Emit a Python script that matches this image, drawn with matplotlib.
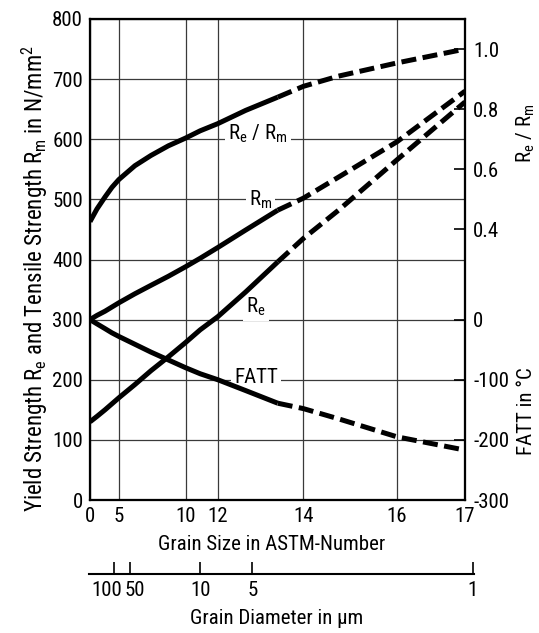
import numpy as np
import matplotlib
matplotlib.use("Agg")
import matplotlib.pyplot as plt
from matplotlib import font_manager as fm
from matplotlib.ticker import FixedLocator, NullLocator
from matplotlib.transforms import ScaledTranslation

# curves, at these ASTM grain size numbers
grain_size = [0, 1.2, 2.6, 3.8, 5, 6.2, 7.4, 8.7, 10, 10.9, 12, 12.65, 13.4, 14, 14.75, 16, 17]
tensile_rm = [300, 307, 314, 321, 328, 343, 357, 372, 388, 402, 420, 449, 482, 502, 537, 596, 680]   # N/mm2
yield_re = [130, 139, 150, 160, 170, 192, 215, 238, 262, 283, 305, 346, 396, 435, 482, 566, 662]     # N/mm2
ratio_re_rm = [0.426, 0.468, 0.508, 0.54, 0.566, 0.612, 0.646, 0.678, 0.704, 0.728, 0.752, 0.796,
               0.84, 0.876, 0.91, 0.954, 1.0]
fatt = [0, -7, -15, -22, -28, -41, -54, -67, -80, -90, -100, -118, -139, -148, -165, -195, -217]   # deg C
measured_until = 13.4   # dashed (extrapolated) beyond this

astm_ticks = [0, 5, 10, 12, 14, 16, 17]
# the ASTM axis is non-uniform (hand drawn): fraction of axis width per tick
astm_pos = [0, 0.077, 0.255, 0.341, 0.569, 0.819, 1.0]
strength_ticks = list(range(0, 801, 100))
ratio_ticks = [0.4, 0.6, 0.8, 1.0]
fatt_ticks = [0, -100, -200, -300]
diam_ticks = [100, 50, 10, 5, 1]

# narrow face, the original uses DIN style lettering
names = {f.name for f in fm.fontManager.ttflist}
FONT = next((n for n in ["Roboto Condensed", "Liberation Sans Narrow", "Barlow Semi Condensed"]
             if n in names), "DejaVu Sans")
FS = 15 if FONT != "DejaVu Sans" else 12
plt.rcParams["font.family"] = [FONT, "DejaVu Sans"]
plt.rcParams["font.size"] = FS

LW = 3.6
DASH = (0, (3.0, 1.3))


def astm_fwd(g):
    return np.interp(g, astm_ticks, astm_pos)


def astm_inv(p):
    return np.interp(p, astm_pos, astm_ticks)


# grain diameter scale goes with d^-1/2 (sign flipped so it increases with d)
def diam_fwd(d):
    return -1.0 / np.sqrt(np.clip(np.asarray(d, float), 1e-6, None))


def diam_inv(s):
    return 1.0 / np.clip(-np.asarray(s, float), 1e-6, None) ** 2


def draw(axis, values):
    g = np.array(grain_size)
    v = np.array(values)
    a = g <= measured_until
    b = g >= measured_until
    axis.plot(g[a], v[a], color="black", lw=LW, solid_capstyle="butt", solid_joinstyle="round", zorder=4)
    axis.plot(g[b], v[b], color="black", lw=LW, ls=DASH, zorder=4)


fig = plt.figure(figsize=(5.39, 6.33), dpi=100, facecolor="white")
ax = fig.add_axes([90 / 539, 133 / 633, 375 / 539, 481 / 633])
ax.set_xscale("function", functions=(astm_fwd, astm_inv))
ax.set_xlim(0, 17)
ax.set_ylim(0, 800)
ax.xaxis.set_major_locator(FixedLocator(astm_ticks))
ax.xaxis.set_minor_locator(NullLocator())
ax.set_xticklabels([str(t) for t in astm_ticks])
ax.set_yticks(strength_ticks)
ax.grid(True, color="#3a3a3a", lw=0.9)
ax.tick_params(length=0, pad=5, labelsize=FS)
for s in ax.spines.values():
    s.set_linewidth(1.5)

draw(ax, tensile_rm)
draw(ax, yield_re)

ax_r = ax.twinx()
ax_r.set_ylim(-0.5, 1.1)
ax_r.set_yticks(ratio_ticks)
ax_r.set_yticklabels([f"{t:.1f}" for t in ratio_ticks])
draw(ax_r, ratio_re_rm)

ax_f = ax.twinx()
ax_f.set_ylim(-300, 500)
ax_f.set_yticks(fatt_ticks)
ax_f.set_yticklabels([str(t) for t in fatt_ticks])
draw(ax_f, fatt)

for t in (ax_r, ax_f):
    t.tick_params(axis="y", direction="in", length=8, width=1.2, pad=6, labelsize=FS)
    for s in t.spines.values():
        s.set_linewidth(1.5)

# curve labels sit on the grid, with the grid broken behind them
lab = dict(ha="center", va="center", fontsize=FS, zorder=1.8,
           bbox=dict(boxstyle="square,pad=0.15", fc="white", ec="none"))
ax.text(12.94, 610, r"R$_\mathregular{e}$ / R$_\mathregular{m}$", **lab)
ax.text(13.0, 500, r"R$_\mathregular{m}$", **lab)
ax.text(12.89, 321, r"R$_\mathregular{e}$", **lab)
ax.text(12.89, 203, "FATT", **lab)

ax.text(-0.146, 0.46, r"Yield Strength R$_\mathregular{e}$ and Tensile Strength R$_\mathregular{m}$ in N/mm$^\mathregular{2}$",
        transform=ax.transAxes, rotation=90, ha="center", va="center", fontsize=16.5)
ax.text(0.483, -0.093, "Grain Size in ASTM-Number", transform=ax.transAxes,
        ha="center", va="center", fontsize=FS)
ax.text(1.163, 0.763, r"R$_\mathregular{e}$ / R$_\mathregular{m}$", transform=ax.transAxes,
        rotation=90, ha="center", va="center", fontsize=FS)
ax.text(1.163, 0.185, "FATT in °C", transform=ax.transAxes,
        rotation=90, ha="center", va="center", fontsize=FS)

# second scale: grain diameter
ax_d = fig.add_axes([89 / 539, 59 / 633, 385 / 539, 0.02])
ax_d.set_xscale("function", functions=(diam_fwd, diam_inv))
ax_d.set_xlim(707, 0.995)
ax_d.xaxis.set_major_locator(FixedLocator(diam_ticks))
ax_d.xaxis.set_minor_locator(NullLocator())
ax_d.set_xticklabels([str(t) for t in diam_ticks])
ax_d.set_yticks([])
ax_d.patch.set_visible(False)
for k in ("top", "left", "right"):
    ax_d.spines[k].set_visible(False)
ax_d.spines["bottom"].set_linewidth(1.5)
ax_d.tick_params(axis="x", direction="in", length=9, width=1.2, pad=5, labelsize=FS)
# "100" and "50" are crowded, nudge them apart like the original
dticks = ax_d.xaxis.get_major_ticks()
for tk, dx in zip(dticks[:2], (-5, 3)):
    tk.label1.set_transform(tk.label1.get_transform() + ScaledTranslation(dx / 72, 0, fig.dpi_scale_trans))
fig.text(277 / 539, (633 - 619) / 633, "Grain Diameter in µm", ha="center", va="center", fontsize=FS)

fig.savefig("out.png", dpi=100, facecolor="white")
